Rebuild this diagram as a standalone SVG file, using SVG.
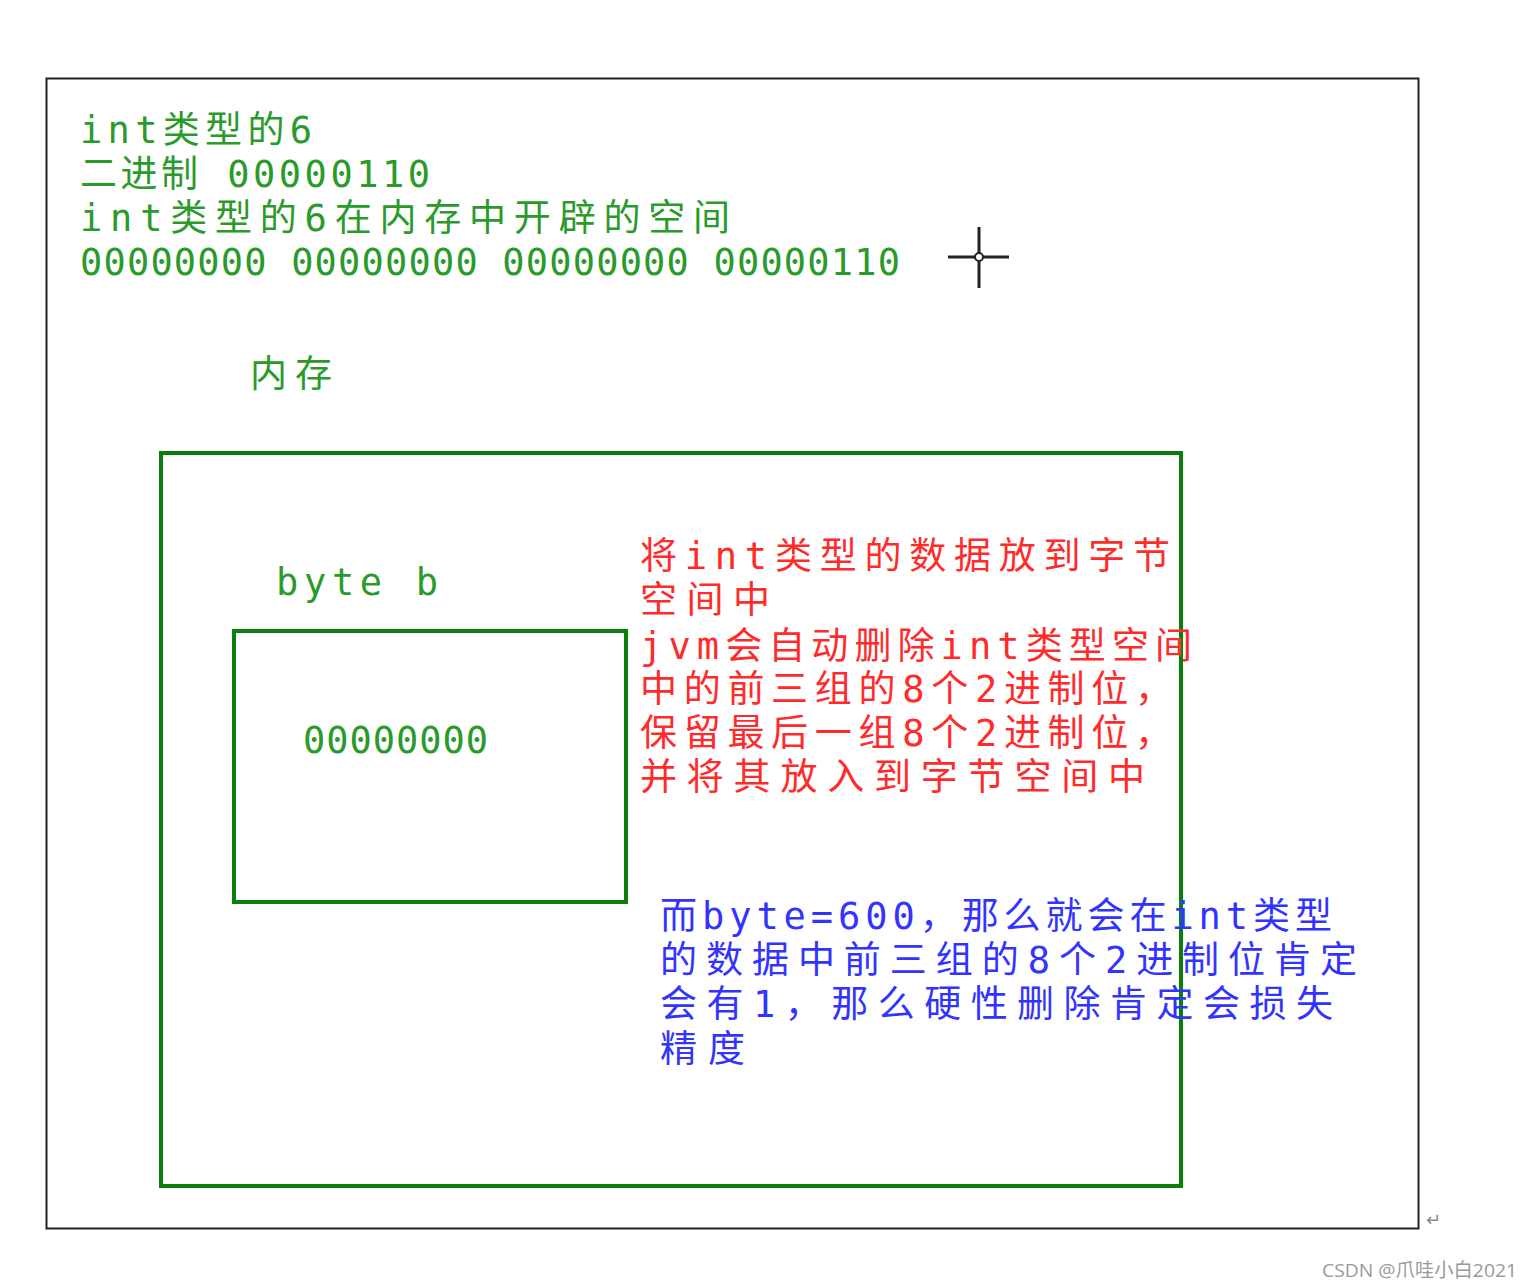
<svg xmlns="http://www.w3.org/2000/svg" width="1529" height="1288" viewBox="0 0 1529 1288">
<style>
.t{font-family:"DejaVu Sans Mono","Noto Sans CJK SC",monospace;font-size:37px}
.g{fill:#2a9a2a}
.r{fill:#ff2a2a}
.b{fill:#3333ff}
.box{fill:none;stroke:#0a800a;stroke-width:4}
</style>
<rect width="1529" height="1288" fill="#ffffff"/>
<g id="frame">
<rect x="46.5" y="78.5" width="1372" height="1150" fill="none" stroke="#222" stroke-width="2"/>
</g>
<g id="header-text">
<text class="t g" x="80" y="143" textLength="232" lengthAdjust="spacing">int类型的6</text>
<text class="t g" x="80" y="187" textLength="350" lengthAdjust="spacing">二进制 00000110</text>
<text class="t g" x="80" y="231" textLength="650" lengthAdjust="spacing">int类型的6在内存中开辟的空间</text>
<text class="t g" x="80" y="275" textLength="820" lengthAdjust="spacing">00000000 00000000 00000000 00000110</text>
</g>
<g id="cursor" stroke="#222" stroke-width="3" fill="none">
<line x1="948" y1="257" x2="1009" y2="257"/>
<line x1="979" y1="227" x2="979" y2="288"/>
<circle cx="979" cy="257" r="4" fill="#fff" stroke-width="2"/>
</g>
<g id="memory-label">
<text class="t g" x="250" y="387" textLength="82" lengthAdjust="spacing">内存</text>
</g>
<g id="memory">
<rect class="box" x="161" y="453" width="1020" height="733"/>
</g>
<g id="byte-label">
<text class="t g" x="276" y="595" textLength="162" lengthAdjust="spacing">byte  b</text>
</g>
<g id="byte-b">
<rect class="box" x="234" y="631" width="392" height="271"/>
<text class="t g" x="303" y="753" textLength="185" lengthAdjust="spacing">00000000</text>
</g>
<g id="red-note">
<text class="t r" x="640" y="569" textLength="530" lengthAdjust="spacing">将int类型的数据放到字节</text>
<text class="t r" x="640" y="613" textLength="130" lengthAdjust="spacing">空间中</text>
<text class="t r" x="640" y="659" textLength="552" lengthAdjust="spacing">jvm会自动删除int类型空间</text>
<text class="t r" x="640" y="702" textLength="532" lengthAdjust="spacing">中的前三组的8个2进制位，</text>
<text class="t r" x="640" y="746" textLength="532" lengthAdjust="spacing">保留最后一组8个2进制位，</text>
<text class="t r" x="640" y="790" textLength="505" lengthAdjust="spacing">并将其放入到字节空间中</text>
</g>
<g id="blue-note">
<text class="t b" x="660" y="929" textLength="672" lengthAdjust="spacing">而byte=600，那么就会在int类型</text>
<text class="t b" x="660" y="973" textLength="697" lengthAdjust="spacing">的数据中前三组的8个2进制位肯定</text>
<text class="t b" x="660" y="1017" textLength="673" lengthAdjust="spacing">会有1，那么硬性删除肯定会损失</text>
<text class="t b" x="660" y="1062" textLength="85" lengthAdjust="spacing">精度</text>
</g>
<g id="marks">
<text x="1426" y="1226" font-family="DejaVu Sans" font-size="18" fill="#888">↵</text>
<text x="1322" y="1277" font-family="Open Sans,'Noto Sans CJK SC',sans-serif" font-size="19" fill="#9a9a9a" textLength="195" lengthAdjust="spacingAndGlyphs">CSDN @爪哇小白2021</text>
</g>
</svg>
